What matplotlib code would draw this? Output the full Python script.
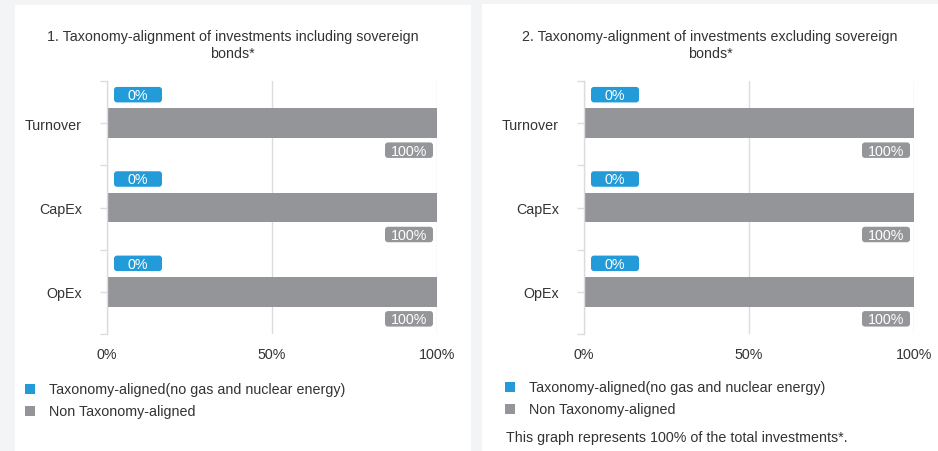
import matplotlib
matplotlib.use("Agg")
import matplotlib.pyplot as plt
from matplotlib.patches import Rectangle, FancyBboxPatch
import matplotlib.transforms as mtransforms

plt.rcParams['font.family'] = ['Liberation Sans', 'DejaVu Sans']

categories = ["Turnover", "CapEx", "OpEx"]
aligned_incl = [0, 0, 0]
non_aligned_incl = [100, 100, 100]
aligned_excl = [0, 0, 0]
non_aligned_excl = [100, 100, 100]
x_ticks = [0, 50, 100]
x_tick_labels = ["0%", "50%", "100%"]
titles = ["1. Taxonomy-alignment of investments including sovereign\nbonds*",
          "2. Taxonomy-alignment of investments excluding sovereign\nbonds*"]
legend_labels = ["Taxonomy-aligned(no gas and nuclear energy)", "Non Taxonomy-aligned"]
footnote = "This graph represents 100% of the total investments*."

BLUE = "#229bd8"
GRAY = "#939598"
LABEL_GRAY = "#959699"
BG = "#f3f4f6"
GRID = "#dcdcdc"
TEXT = "#333333"

W, H = 938, 452
DPI = 100
fig = plt.figure(figsize=(W / DPI, H / DPI), dpi=DPI)
fig.patch.set_facecolor(BG)

px = mtransforms.Affine2D().scale(1.0 / W, 1.0 / H) + fig.transFigure


def fig_rect(x0, y0, x1, y1, color, z=-1):
    # rectangle given in top-left pixel coordinates
    fig.patches.append(Rectangle((x0, H - y1), x1 - x0, y1 - y0, transform=px,
                                 facecolor=color, edgecolor="none", zorder=z))


def fig_text(x, y, s, **kw):
    fig.text(x, H - y, s, transform=px, **kw)


# white card panels
fig_rect(15, 6, 471, 460, "white", z=-5)
fig_rect(482, 5, 945, 460, "white", z=-5)

FS = 10.3


def value_label(ax, xval, yval, dx, dy, text, color, anchor):
    # fixed-size rounded badge; dx, dy in pixels from data point (x right, y down)
    bw, bh = 48, 15.5
    base = mtransforms.ScaledTranslation(xval, yval, ax.transData)
    tr = mtransforms.Affine2D() + base
    x0 = dx if anchor == "left" else dx - bw
    y0 = -dy - bh / 2
    box = FancyBboxPatch((x0, y0), bw, bh, boxstyle="round,pad=0,rounding_size=3",
                         transform=tr, facecolor=color, edgecolor="none",
                         zorder=5, clip_on=False)
    ax.add_patch(box)
    ax.text(x0 + bw / 2, y0 + bh / 2 - 0.5, text, transform=tr, ha="center",
            va="center", color="white", fontsize=FS, zorder=6, clip_on=False)


def panel(left_px, aligned, non_aligned, title, title_cx):
    top, bottom, width = 82, 335, 330
    ax = fig.add_axes([left_px / W, (H - bottom) / H, width / W, (bottom - top) / H])
    ax.set_facecolor("none")
    ys = list(range(len(categories)))
    ax.barh(ys, non_aligned, height=0.355, color=GRAY, zorder=3)
    ax.barh([y - 0.34 for y in ys], aligned, height=0.3, color=BLUE, zorder=3)
    ax.set_xlim(0, 100)
    ax.set_ylim(len(categories) - 0.5, -0.5)
    ax.set_xticks(x_ticks)
    ax.set_xticklabels(x_tick_labels, fontsize=FS, color=TEXT)
    ax.set_yticks(ys)
    ax.set_yticklabels(categories, fontsize=FS, color=TEXT)
    ax.set_yticks([y - 0.5 for y in ys] + [len(ys) - 0.5], minor=True)
    ax.tick_params(axis="x", length=0, pad=9.5)
    ax.tick_params(axis="y", which="both", length=5, color=GRID, width=1, pad=13)
    ax.grid(axis="x", color=GRID, linewidth=1, zorder=1)
    for s in ["top", "right", "bottom"]:
        ax.spines[s].set_visible(False)
    ax.spines["left"].set_color(GRID)
    ax.spines["left"].set_linewidth(1)
    ax.spines["left"].set_zorder(4)
    for y, a, n in zip(ys, aligned, non_aligned):
        value_label(ax, a, y, 7, -28.5, f"{a}%", BLUE, "left")
        value_label(ax, n, y, -4, 27, f"{n}%", LABEL_GRAY, "right")
    fig_text(title_cx, 45.5, title, ha="center", va="center", fontsize=FS,
             color=TEXT, linespacing=1.3)
    return ax


panel(107, aligned_incl, non_aligned_incl, titles[0], 232.5)
panel(584, aligned_excl, non_aligned_excl, titles[1], 710)


def legend(sx, tx, y1, y2):
    for (yc, lab, col) in [(y1, legend_labels[0], BLUE), (y2, legend_labels[1], GRAY)]:
        fig_rect(sx, yc - 5, sx + 10, yc + 5, col, z=2)
        fig_text(tx, yc, lab, ha="left", va="center", fontsize=FS, color=TEXT)


legend(25, 49, 390, 412)
legend(505, 529, 388, 410)
fig_text(506, 438, footnote, ha="left", va="center", fontsize=FS, color=TEXT)

fig.savefig("out.png", dpi=DPI, facecolor=BG)
